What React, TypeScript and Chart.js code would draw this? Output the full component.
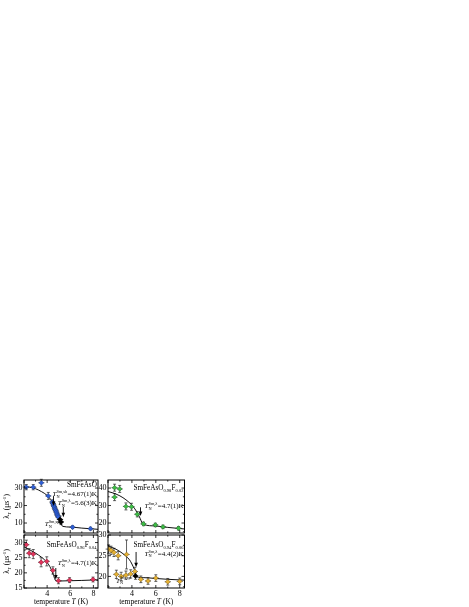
import React, { useEffect, useRef } from "react";
import { Chart, registerables } from "chart.js";
Chart.register(...registerables);

const W = 469;
const H = 607;
const FONT = '"Liberation Serif", "DejaVu Serif", serif';

// ---------- data: top-left SmFeAsO (blue) ----------
const tlTemp = [2.2, 2.8, 3.5, 4.1, 4.45, 4.5, 4.55, 4.6, 4.65, 4.7, 4.75, 4.8, 4.85, 4.9, 4.95, 6.2, 7.75];
const tlLam = [30.5, 30.5, 33.0, 25.5, 22.0, 21.2, 20.3, 19.5, 18.6, 17.8, 17.0, 16.2, 15.2, 14.4, 13.5, 7.6, 6.8];
const tlErr = [1.5, 1.5, 2.0, 2.0, 1.2, 1.2, 1.2, 1.2, 1.2, 1.2, 1.2, 1.2, 1.2, 1.2, 1.2, 0.8, 0.8];
const tlBlackTemp = [5.12, 5.2];
const tlBlackLam = [12.0, 10.6];
const tlBlackErr = [2.0, 1.5];
const tlFitTemp = [2.0, 2.5, 3.0, 3.5, 4.0, 4.3, 4.6, 4.9, 5.1, 5.25, 5.35, 6.0, 7.0, 8.4];
const tlFitLam = [30.8, 30.5, 29.6, 28.0, 25.8, 23.5, 19.8, 15.2, 11.6, 8.9, 8.1, 7.7, 7.1, 6.4];

// ---------- data: top-right SmFeAsO0.98F0.02 (green) ----------
const trTemp = [2.55, 2.98, 2.55, 3.5, 3.97, 4.45, 4.97, 5.96, 6.6, 7.9];
const trLam = [40.2, 39.5, 34.8, 29.5, 29.3, 25.0, 19.5, 18.9, 17.8, 17.0];
const trErr = [2.0, 2.0, 2.0, 2.0, 2.0, 1.5, 1.0, 1.0, 1.0, 1.0];
const trFitTemp = [2.0, 2.5, 3.0, 3.5, 4.0, 4.4, 4.7, 4.85, 4.95, 6.0, 7.0, 8.4];
const trFitLam = [38.0, 37.0, 35.5, 33.3, 30.2, 26.5, 22.5, 20.0, 19.2, 18.3, 17.5, 16.6];

// ---------- data: bottom-left SmFeAsO0.96F0.04 (red) ----------
const blTemp = [2.2, 2.45, 2.8, 3.48, 3.97, 4.5, 4.98, 5.94, 7.97];
const blLam = [29.3, 26.5, 26.2, 23.5, 23.8, 20.8, 17.4, 17.6, 17.8];
const blErr = [1.5, 1.5, 1.5, 1.5, 1.5, 1.2, 1.0, 0.8, 0.8];
const blFitTemp = [2.0, 2.5, 3.0, 3.5, 4.0, 4.3, 4.55, 4.75, 5.0, 6.0, 7.0, 8.4];
const blFitLam = [28.6, 27.6, 26.5, 25.2, 23.4, 21.6, 19.2, 17.4, 17.3, 17.4, 17.5, 17.7];

// ---------- data: bottom-right SmFeAsO0.94F0.06 (gold) ----------
const brTemp = [2.05, 2.25, 2.5, 2.85, 3.55, 2.7, 3.1, 3.5, 3.9, 4.25, 4.75, 5.35, 6.0, 7.0, 8.0];
const brLam = [26.6, 26.3, 25.8, 25.0, 25.3, 20.5, 20.0, 20.3, 20.6, 21.2, 19.3, 18.9, 19.6, 18.7, 18.8];
const brErr = [1.0, 1.0, 1.0, 1.0, 3.5, 1.0, 1.0, 1.0, 1.0, 1.0, 0.8, 0.8, 0.8, 0.8, 0.8];
const brBlackTemp = [4.3];
const brBlackLam = [20.1];
const brBlackErr = [0.8];
const brFitTemp = [2.0, 2.5, 3.0, 3.5, 3.8, 4.0, 4.2, 4.35, 4.4, 5.0, 6.0, 7.0, 8.4];
const brFitLam = [27.3, 26.8, 26.0, 24.9, 24.0, 23.0, 21.7, 20.3, 19.9, 19.7, 19.5, 19.3, 19.1];

// ---------- tick labels ----------
const xTicks = [2, 4, 6, 8];
const xLabels = ["", "4", "6", "8"];
const tlYTicks = [10, 20, 30];
const trYTicks = [20, 30, 40];
const blYTicks = [15, 20, 25, 30];
const brYTicks = [20, 25, 30];

type Seg = { t?: string; sub?: string; sup?: string; it?: boolean };

function segW(ctx: CanvasRenderingContext2D, s: Seg, size: number) {
  if (s.t !== undefined) {
    ctx.font = `${s.it ? "italic " : ""}${size}px ${FONT}`;
    return ctx.measureText(s.t).width;
  }
  const ss = size * 0.62;
  ctx.font = `${ss}px ${FONT}`;
  const a = s.sub ? ctx.measureText(s.sub).width : 0;
  const b = s.sup ? ctx.measureText(s.sup).width : 0;
  return Math.max(a, b) + 0.3;
}

function drawRich(ctx: CanvasRenderingContext2D, segs: Seg[], x: number, y: number, size: number, align: "left" | "right" | "center") {
  const total = segs.reduce((acc, s) => acc + segW(ctx, s, size), 0);
  let cx = align === "left" ? x : align === "right" ? x - total : x - total / 2;
  ctx.textAlign = "left";
  ctx.textBaseline = "alphabetic";
  for (const s of segs) {
    const w = segW(ctx, s, size);
    if (s.t !== undefined) {
      ctx.font = `${s.it ? "italic " : ""}${size}px ${FONT}`;
      ctx.fillText(s.t, cx, y);
    } else {
      const ss = size * 0.62;
      ctx.font = `${ss}px ${FONT}`;
      if (s.sub) ctx.fillText(s.sub, cx, y + size * 0.22);
      if (s.sup) ctx.fillText(s.sup, cx, y - size * 0.45);
    }
    cx += w;
  }
}

const TN = (sup: string, rest?: string): Seg[] => {
  const r: Seg[] = [{ t: "T", it: true }, { sub: "N", sup }];
  if (rest) r.push({ t: rest });
  return r;
};

type Ann = { x: number; y: number; segs: Seg[]; align: "left" | "right"; size: number };
type Arrow = { x: number; y0: number; y1: number };

type Panel = {
  area: { l: number; t: number; r: number; b: number };
  xMin: number; xMax: number; yMin: number; yMax: number;
  yTicks: number[]; yMinor: number;
  color: string; border: string;
  temp: number[]; lam: number[]; err: number[];
  bTemp: number[]; bLam: number[]; bErr: number[];
  fitTemp: number[]; fitLam: number[];
  showX: boolean; yTitle: boolean;
  anns: Ann[]; arrows: Arrow[];
};

const PANELS: Panel[] = [
  {
    area: { l: 24, t: 480, r: 98, b: 533 },
    xMin: 2, xMax: 8.4, yMin: 4.3, yMax: 34.6, yTicks: tlYTicks, yMinor: 5,
    color: "#2f5fd6", border: "#1a3a8a",
    temp: tlTemp, lam: tlLam, err: tlErr,
    bTemp: tlBlackTemp, bLam: tlBlackLam, bErr: tlBlackErr,
    fitTemp: tlFitTemp, fitLam: tlFitLam,
    showX: false, yTitle: true,
    anns: [
      { x: 8.3, y: 30.6, segs: [{ t: "SmFeAsO" }], align: "right", size: 7.2 },
      { x: 8.3, y: 25.3, segs: TN("Sm,sh", "=4.67(1)K"), align: "right", size: 7 },
      { x: 8.3, y: 20.2, segs: TN("Sm,λ", "=5.6(3)K"), align: "right", size: 7 },
      { x: 3.8, y: 8.3, segs: TN("Sm,sp"), align: "left", size: 7 },
    ],
    arrows: [
      { x: 4.55, y0: 25.4, y1: 19.8 },
      { x: 5.4, y0: 19.2, y1: 13.3 },
    ],
  },
  {
    area: { l: 108, t: 480, r: 184.5, b: 533 },
    xMin: 2, xMax: 8.4, yMin: 14.3, yMax: 44.6, yTicks: trYTicks, yMinor: 5,
    color: "#3dbb45", border: "#1d6b22",
    temp: trTemp, lam: trLam, err: trErr,
    bTemp: [], bLam: [], bErr: [],
    fitTemp: trFitTemp, fitLam: trFitLam,
    showX: false, yTitle: false,
    anns: [
      { x: 8.33, y: 38.9, segs: [{ t: "SmFeAsO" }, { sub: "0.98" }, { t: "F" }, { sub: "0.02" }], align: "right", size: 7.2 },
      { x: 8.33, y: 28.6, segs: TN("Sm,λ", "=4.7(1)K"), align: "right", size: 7 },
    ],
    arrows: [{ x: 4.72, y0: 29.0, y1: 24.0 }],
  },
  {
    area: { l: 24, t: 535, r: 98, b: 588 },
    xMin: 2, xMax: 8.4, yMin: 15, yMax: 32.5, yTicks: blYTicks, yMinor: 2.5,
    color: "#e3345c", border: "#8a1530",
    temp: blTemp, lam: blLam, err: blErr,
    bTemp: [], bLam: [], bErr: [],
    fitTemp: blFitTemp, fitLam: blFitLam,
    showX: true, yTitle: true,
    anns: [
      { x: 8.3, y: 28.5, segs: [{ t: "SmFeAsO" }, { sub: "0.96" }, { t: "F" }, { sub: "0.04" }], align: "right", size: 7.2 },
      { x: 8.3, y: 22.6, segs: TN("Sm,λ", "=4.7(1)K"), align: "right", size: 7 },
    ],
    arrows: [{ x: 4.75, y0: 21.6, y1: 17.8 }],
  },
  {
    area: { l: 108, t: 535, r: 184.5, b: 588 },
    xMin: 2, xMax: 8.4, yMin: 17.2, yMax: 30, yTicks: brYTicks, yMinor: 2.5,
    color: "#e6b132", border: "#7a5a10",
    temp: brTemp, lam: brLam, err: brErr,
    bTemp: brBlackTemp, bLam: brBlackLam, bErr: brBlackErr,
    fitTemp: brFitTemp, fitLam: brFitLam,
    showX: true, yTitle: false,
    anns: [
      { x: 8.33, y: 27.1, segs: [{ t: "SmFeAsO" }, { sub: "0.94" }, { t: "F" }, { sub: "0.06" }], align: "right", size: 7.2 },
      { x: 8.33, y: 25.0, segs: TN("Sm,λ", "=4.4(2)K"), align: "right", size: 7 },
      { x: 2.67, y: 18.5, segs: TN("Sm,sp"), align: "left", size: 7 },
    ],
    arrows: [{ x: 4.35, y0: 25.9, y1: 22.2 }],
  },
];

function makeConfig(p: Panel): any {
  const pts = p.temp.map((t, i) => ({ x: t, y: p.lam[i] }));
  const bpts = p.bTemp.map((t, i) => ({ x: t, y: p.bLam[i] }));
  const fit = p.fitTemp.map((t, i) => ({ x: t, y: p.fitLam[i] }));

  const deco = {
    id: "deco",
    beforeDatasetsDraw(chart: any) {
      const { ctx, scales } = chart;
      const xs = scales.x, ys = scales.y;
      ctx.save();
      ctx.strokeStyle = "#222";
      ctx.lineWidth = 0.7;
      const bars = (T: number[], L: number[], E: number[]) => {
        T.forEach((t, i) => {
          const px = xs.getPixelForValue(t);
          const y0 = ys.getPixelForValue(L[i] - E[i]);
          const y1 = ys.getPixelForValue(L[i] + E[i]);
          ctx.beginPath();
          ctx.moveTo(px, y0); ctx.lineTo(px, y1);
          ctx.moveTo(px - 1.5, y0); ctx.lineTo(px + 1.5, y0);
          ctx.moveTo(px - 1.5, y1); ctx.lineTo(px + 1.5, y1);
          ctx.moveTo(px - 3, ys.getPixelForValue(L[i])); ctx.lineTo(px + 3, ys.getPixelForValue(L[i]));
          ctx.stroke();
        });
      };
      bars(p.temp, p.lam, p.err);
      bars(p.bTemp, p.bLam, p.bErr);
      ctx.restore();
    },
    afterDraw(chart: any) {
      const { ctx, chartArea: a, scales } = chart;
      const xs = scales.x, ys = scales.y;
      ctx.save();
      ctx.strokeStyle = "#000";
      ctx.fillStyle = "#000";
      ctx.lineWidth = 1;
      ctx.strokeRect(a.left, a.top, a.right - a.left, a.bottom - a.top);
      ctx.lineWidth = 0.8;
      // x ticks (major every 2, minor every 1)
      for (let v = Math.ceil(p.xMin); v <= p.xMax + 1e-9; v += 1) {
        const px = xs.getPixelForValue(v);
        const len = v % 2 === 0 ? 3 : 1.6;
        ctx.beginPath();
        ctx.moveTo(px, a.bottom); ctx.lineTo(px, a.bottom - len);
        ctx.moveTo(px, a.top); ctx.lineTo(px, a.top + len);
        ctx.stroke();
      }
      // y ticks
      const step = p.yMinor;
      for (let v = Math.ceil(p.yMin / step) * step; v <= p.yMax + 1e-9; v += step) {
        const py = ys.getPixelForValue(v);
        const major = p.yTicks.some((t) => Math.abs(t - v) < 1e-6);
        const len = major ? 3 : 1.6;
        ctx.beginPath();
        ctx.moveTo(a.left, py); ctx.lineTo(a.left + len, py);
        ctx.moveTo(a.right, py); ctx.lineTo(a.right - len, py);
        ctx.stroke();
      }
      // y tick labels
      ctx.font = `8px ${FONT}`;
      ctx.textAlign = "right";
      ctx.textBaseline = "middle";
      p.yTicks.forEach((v) => {
        ctx.fillText(String(v), a.left - 1.5, ys.getPixelForValue(v));
      });
      // x tick labels
      if (p.showX) {
        ctx.textAlign = "center";
        ctx.textBaseline = "top";
        xTicks.forEach((v, i) => {
          if (xLabels[i]) ctx.fillText(xLabels[i], xs.getPixelForValue(v), a.bottom + 2);
        });
        drawRich(ctx, [{ t: "temperature " }, { t: "T", it: true }, { t: " (K)" }], (a.left + a.right) / 2, a.bottom + 16, 7.5, "center");
      }
      if (p.yTitle) {
        ctx.save();
        ctx.translate(a.left - 15, (a.top + a.bottom) / 2);
        ctx.rotate(-Math.PI / 2);
        drawRich(ctx, [{ t: "λ" }, { sub: "T", sup: "" }, { t: " (μs" }, { sup: "-1" }, { t: ")" }], 0, 0, 7.5, "center");
        ctx.restore();
      }
      // annotations
      p.anns.forEach((an) => {
        drawRich(ctx, an.segs, xs.getPixelForValue(an.x), ys.getPixelForValue(an.y), an.size, an.align);
      });
      // arrows
      ctx.lineWidth = 0.9;
      p.arrows.forEach((ar) => {
        const px = xs.getPixelForValue(ar.x);
        const y0 = ys.getPixelForValue(ar.y0);
        const y1 = ys.getPixelForValue(ar.y1);
        ctx.beginPath();
        ctx.moveTo(px, y0); ctx.lineTo(px, y1 - 3);
        ctx.stroke();
        ctx.beginPath();
        ctx.moveTo(px - 1.8, y1 - 4.5);
        ctx.lineTo(px + 1.8, y1 - 4.5);
        ctx.lineTo(px, y1);
        ctx.closePath();
        ctx.fill();
      });
      ctx.restore();
    },
  };

  return {
    type: "scatter",
    data: {
      datasets: [
        {
          data: fit,
          showLine: true,
          borderColor: "#111",
          borderWidth: 1,
          pointRadius: 0,
          cubicInterpolationMode: "monotone",
          order: 3,
        },
        {
          data: pts,
          pointStyle: "rectRot",
          pointRadius: 2.4,
          backgroundColor: p.color,
          borderColor: p.border,
          borderWidth: 0.5,
          order: 2,
        },
        {
          data: bpts,
          pointStyle: "rectRot",
          pointRadius: 2.6,
          backgroundColor: "#000",
          borderColor: "#000",
          borderWidth: 0.5,
          order: 1,
        },
      ],
    },
    options: {
      animation: false,
      responsive: false,
      events: [],
      layout: {
        padding: { left: p.area.l, top: p.area.t, right: W - p.area.r, bottom: H - p.area.b },
      },
      scales: {
        x: { type: "linear", min: p.xMin, max: p.xMax, display: false },
        y: { type: "linear", min: p.yMin, max: p.yMax, display: false },
      },
      plugins: { legend: { display: false }, tooltip: { enabled: false } },
    },
    plugins: [deco],
  };
}

export default function App() {
  const refs = useRef<(HTMLCanvasElement | null)[]>([]);
  useEffect(() => {
    const charts = PANELS.map((p, i) => new Chart(refs.current[i] as HTMLCanvasElement, makeConfig(p)));
    return () => charts.forEach((c) => c.destroy());
  }, []);
  return (
    <div>
      {PANELS.map((_, i) => (
        <canvas
          key={i}
          ref={(el) => { refs.current[i] = el; }}
          width={W}
          height={H}
          style={{ position: "absolute", left: 0, top: 0, width: W, height: H }}
        />
      ))}
    </div>
  );
}
